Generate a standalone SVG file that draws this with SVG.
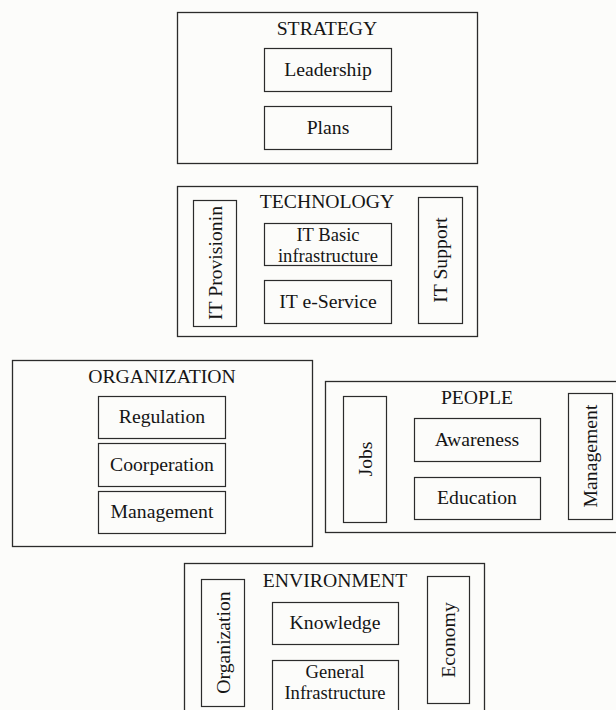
<svg xmlns="http://www.w3.org/2000/svg" width="616" height="710" viewBox="0 0 616 710">
  <style>
    .frame { fill: none; stroke: #2b2b2b; stroke-width: 1.3; }
    .item { fill: none; stroke: #2b2b2b; stroke-width: 1.2; }
    .lbl { font-family: 'Liberation Serif', 'DejaVu Serif', 'Times New Roman', serif; font-size: 19.7px; fill: #151515; text-anchor: middle; }
    .two { font-size: 18.6px; }
  </style>
  <rect x="0" y="0" width="616" height="710" fill="#fcfcfa"/>

  <!-- Strategy -->
  <g id="strategy">
    <rect class="frame" x="177.5" y="12.5" width="300" height="151"/>
    <text class="lbl" x="327" y="35">STRATEGY</text>
    <g id="leadership">
      <rect class="item" x="264.5" y="48.5" width="127" height="43"/>
      <text class="lbl" x="328" y="76">Leadership</text>
    </g>
    <g id="plans">
      <rect class="item" x="264.5" y="106.5" width="127" height="43"/>
      <text class="lbl" x="328" y="134">Plans</text>
    </g>
  </g>

  <!-- Technology -->
  <g id="technology">
    <rect class="frame" x="177.5" y="186.5" width="300" height="150"/>
    <text class="lbl" x="327" y="208">TECHNOLOGY</text>
    <g id="it-provisioning">
      <rect class="item" x="193.5" y="200.5" width="43" height="126"/>
      <text class="lbl" transform="translate(221.5 263) rotate(-90)">IT Provisionin</text>
    </g>
    <g id="it-basic">
      <rect class="item" x="264.5" y="223.5" width="127" height="42"/>
      <text class="lbl two" x="328" y="241">IT Basic</text>
      <text class="lbl two" x="328" y="262">infrastructure</text>
    </g>
    <g id="it-eservice">
      <rect class="item" x="264.5" y="280.5" width="127" height="43"/>
      <text class="lbl" x="328" y="308">IT e-Service</text>
    </g>
    <g id="it-support">
      <rect class="item" x="418.5" y="197.5" width="44" height="126"/>
      <text class="lbl" transform="translate(447 260) rotate(-90)">IT Support</text>
    </g>
  </g>

  <!-- Organization -->
  <g id="organization">
    <rect class="frame" x="12.5" y="360.5" width="300" height="186"/>
    <text class="lbl" x="162" y="383">ORGANIZATION</text>
    <g id="regulation">
      <rect class="item" x="98.5" y="396.5" width="127" height="42"/>
      <text class="lbl" x="162" y="423">Regulation</text>
    </g>
    <g id="coorperation">
      <rect class="item" x="98.5" y="443.5" width="127" height="43"/>
      <text class="lbl" x="162" y="471">Coorperation</text>
    </g>
    <g id="org-management">
      <rect class="item" x="98.5" y="491.5" width="127" height="42"/>
      <text class="lbl" x="162" y="518">Management</text>
    </g>
  </g>

  <!-- People -->
  <g id="people">
    <rect class="frame" x="325.5" y="381.5" width="300" height="151"/>
    <text class="lbl" x="477" y="404">PEOPLE</text>
    <g id="jobs">
      <rect class="item" x="343.5" y="396.5" width="43" height="126"/>
      <text class="lbl" transform="translate(371.5 459) rotate(-90)">Jobs</text>
    </g>
    <g id="awareness">
      <rect class="item" x="414.5" y="418.5" width="126" height="43"/>
      <text class="lbl" x="477" y="446">Awareness</text>
    </g>
    <g id="education">
      <rect class="item" x="414.5" y="477.5" width="126" height="42"/>
      <text class="lbl" x="477" y="504">Education</text>
    </g>
    <g id="people-management">
      <rect class="item" x="568.5" y="393.5" width="44" height="126"/>
      <text class="lbl" transform="translate(597 456) rotate(-90)">Management</text>
    </g>
  </g>

  <!-- Environment -->
  <g id="environment">
    <rect class="frame" x="184.5" y="563.5" width="300" height="160"/>
    <text class="lbl" x="335" y="587">ENVIRONMENT</text>
    <g id="env-organization">
      <rect class="item" x="201.5" y="579.5" width="43" height="127"/>
      <text class="lbl" transform="translate(229.5 642.5) rotate(-90)">Organization</text>
    </g>
    <g id="knowledge">
      <rect class="item" x="272.5" y="602.5" width="126" height="42"/>
      <text class="lbl" x="335" y="629">Knowledge</text>
    </g>
    <g id="general-infrastructure">
      <rect class="item" x="272.5" y="660.5" width="126" height="55"/>
      <text class="lbl two" x="335" y="678">General</text>
      <text class="lbl two" x="335" y="699">Infrastructure</text>
    </g>
    <g id="economy">
      <rect class="item" x="427.5" y="576.5" width="42" height="127"/>
      <text class="lbl" transform="translate(455 640) rotate(-90)">Economy</text>
    </g>
  </g>

  <!-- No connectors are drawn between the domains -->
  <g id="connectors"/>
</svg>
